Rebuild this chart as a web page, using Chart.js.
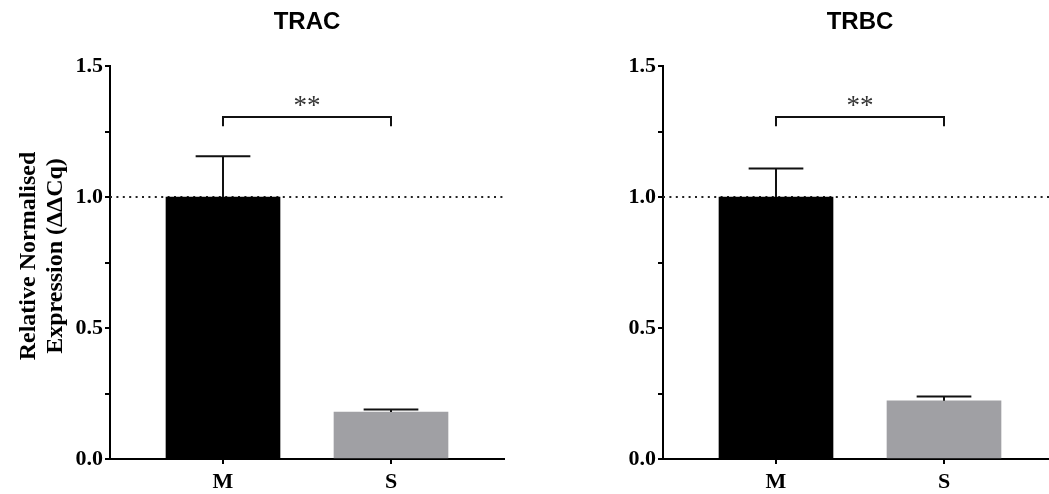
<!DOCTYPE html>
<html><head><meta charset="utf-8">
<script src="https://cdn.jsdelivr.net/npm/chart.js@4/dist/chart.umd.min.js"></script>
<style>
html,body{margin:0;padding:0;background:#fff;overflow:hidden;width:1049px;height:494px;}
.panel{position:absolute;top:0;width:520px;height:494px;}
#p1{left:0}
#p2{left:553px}
</style></head><body>
<div class="panel" id="p1"><canvas id="c1" width="520" height="494"></canvas></div>
<div class="panel" id="p2"><canvas id="c2" width="520" height="494"></canvas></div>
<script>
const categories = ['M', 'S'];
const panelTitles = ['TRAC', 'TRBC'];
const tracMean = [1.0, 0.179];
const tracSem = [0.156, 0.010];
const trbcMean = [1.0, 0.222];
const trbcSem = [0.109, 0.017];
const refLevel = 1.0;
const yTickValues = [0, 0.5, 1.0, 1.5];
const yTickLabels = ['0.0', '0.5', '1.0', '1.5'];
const sigLabel = '**';
const sigBracket = [1.305, 1.27, 1.366]; // bracket line, leg ends, label
const yTitleLines = ['Relative Normalised', 'Expression (ΔΔCq)'];

const X_MIN = -0.6726, X_MAX = 1.6726;
const SERIF = '"Liberation Serif", "Times New Roman", serif';
const SANS = '"Liberation Sans", Arial, sans-serif';

function makeChart(id, title, mean, sem, showYTitle) {
  const extras = {
    id: 'extras' + id,
    afterDatasetsDraw(chart) {
      const ctx = chart.ctx, xs = chart.scales.x, ys = chart.scales.y;
      const meta = chart.getDatasetMeta(0);
      ctx.save();
      ctx.strokeStyle = '#111';
      ctx.lineWidth = 2;
      mean.forEach((v, i) => {
        const x = xs.getPixelForValue(i);
        const yb = ys.getPixelForValue(v);
        const yt = ys.getPixelForValue(v + sem[i]);
        const half = meta.data[i].width * 0.24;
        ctx.beginPath();
        ctx.moveTo(x, yb); ctx.lineTo(x, yt);
        ctx.moveTo(x - half, yt); ctx.lineTo(x + half, yt);
        ctx.stroke();
      });
      // significance bracket
      const x0 = xs.getPixelForValue(0), x1 = xs.getPixelForValue(1);
      const yl = ys.getPixelForValue(sigBracket[0]);
      const yleg = ys.getPixelForValue(sigBracket[1]);
      ctx.beginPath();
      ctx.moveTo(x0, yleg); ctx.lineTo(x0, yl); ctx.lineTo(x1, yl); ctx.lineTo(x1, yleg);
      ctx.stroke();
      ctx.fillStyle = '#333';
      ctx.font = '27px ' + SERIF;
      ctx.textAlign = 'center';
      ctx.textBaseline = 'alphabetic';
      ctx.fillText(sigLabel, (x0 + x1) / 2, ys.getPixelForValue(sigBracket[2]) + 13);
      ctx.restore();
    },
    afterDraw(chart) {
      const ctx = chart.ctx, xs = chart.scales.x;
      ctx.save();
      ctx.fillStyle = '#000';
      ctx.font = 'bold 24px ' + SANS;
      ctx.textAlign = 'center';
      ctx.textBaseline = 'middle';
      const cx = (xs.getPixelForValue(0) + xs.getPixelForValue(1)) / 2;
      ctx.fillText(title, cx, 22);
      if (showYTitle) {
        ctx.font = 'bold 24px ' + SERIF;
        const cy = 256;
        [35, 62].forEach((bx, k) => {
          ctx.save();
          ctx.translate(bx, cy);
          ctx.rotate(-Math.PI / 2);
          ctx.textBaseline = 'alphabetic';
          ctx.fillText(yTitleLines[k], 0, 0);
          ctx.restore();
        });
      }
      ctx.restore();
    }
  };

  return new Chart(document.getElementById(id), {
    type: 'bar',
    data: {
      datasets: [
        {
          type: 'bar',
          data: categories.map((c, i) => ({ x: i, y: mean[i] })),
          backgroundColor: ['#000000', '#a0a0a4'],
          borderWidth: 0,
          barThickness: 114,
          order: 1
        },
        {
          type: 'line',
          data: [{ x: X_MIN, y: refLevel }, { x: X_MAX, y: refLevel }],
          borderColor: '#222',
          borderWidth: 2,
          borderDash: [2, 4.4],
          pointRadius: 0,
          fill: false,
          order: 2
        }
      ]
    },
    options: {
      responsive: false,
      animation: false,
      devicePixelRatio: 1,
      layout: { padding: { left: 60, right: 16, top: 66, bottom: 0 } },
      plugins: { legend: { display: false }, tooltip: { enabled: false }, title: { display: false } },
      scales: {
        x: {
          type: 'linear',
          min: X_MIN, max: X_MAX,
          offset: false,
          afterBuildTicks: (s) => { s.ticks = categories.map((c, i) => ({ value: i })); },
          afterFit: (s) => { s.height = 35; },
          grid: { drawOnChartArea: false, drawTicks: true, tickLength: 5, color: '#000', lineWidth: 2, offset: false },
          border: { display: true, color: '#000', width: 2 },
          ticks: {
            autoSkip: false, maxRotation: 0, padding: 5, color: '#000',
            font: { family: SERIF, size: 22, weight: 'bold' },
            callback: (v) => categories[v] !== undefined ? categories[v] : ''
          }
        },
        y: {
          min: 0, max: 1.5,
          afterFit: (s) => { s.width = 50; },
          grid: { drawOnChartArea: false, drawTicks: true, tickLength: 5, color: '#000', lineWidth: 2 },
          border: { display: true, color: '#000', width: 2 },
          ticks: {
            stepSize: 0.25, autoSkip: false, padding: 2, color: '#000',
            font: { family: SERIF, size: 22, weight: 'bold' },
            callback: (v) => {
              const k = yTickValues.findIndex(t => Math.abs(t - v) < 1e-6);
              return k >= 0 ? yTickLabels[k] : '';
            }
          }
        }
      }
    },
    plugins: [extras]
  });
}

makeChart('c1', panelTitles[0], tracMean, tracSem, true);
makeChart('c2', panelTitles[1], trbcMean, trbcSem, false);
</script>
</body></html>
